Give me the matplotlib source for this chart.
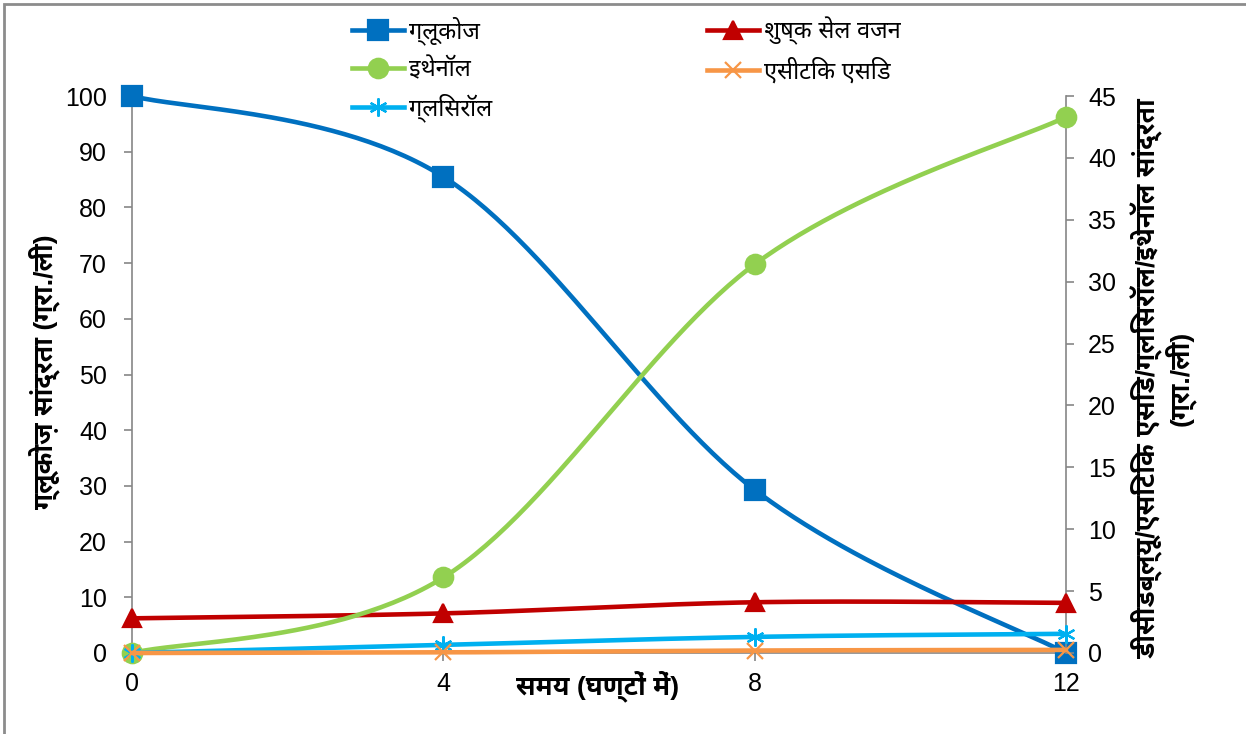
import numpy as np
import matplotlib
matplotlib.use("Agg")
import matplotlib.pyplot as plt
from matplotlib import font_manager
from matplotlib.lines import Line2D
from matplotlib.patches import Rectangle

# sampling times (h)
hours = [0, 4, 8, 12]
# left axis: glucose (g/L)
glucose = [100, 85.5, 29.3, 0]
# right axis (g/L)
dcw = [2.8, 3.2, 4.1, 4.05]
ethanol = [0, 6.1, 31.4, 43.3]
acetic = [0, 0.05, 0.2, 0.25]
glycerol = [0, 0.65, 1.3, 1.55]

left_ticks = list(range(0, 101, 10))
right_ticks = list(range(0, 46, 5))
x_ticks = [0, 4, 8, 12]

lbl_glucose = "ग्लूकोज"
lbl_ethanol = "इथेनॉल"
lbl_glycerol = "ग्लिसरॉल"
lbl_dcw = "शुष्क सेल वजन"
lbl_acetic = "एसीटिक एसिड"
ylabel_left = "ग्लूकोज़ सांद्रता (ग्रा./ली)"
ylabel_right = "डीसीडब्ल्यू/एसिटिक एसिड/ग्लिसरॉल/इथेनॉल सांद्रता\n(ग्रा./ली)"
xlabel = "समय (घण्टों में)"

# Devanagari fallback: prefer a family that ships a bold face
ttf = font_manager.fontManager.ttflist
have = {f.name for f in ttf}
bold_fams = {f.name for f in ttf if f.weight in (700, "bold")}
cands = ["Noto Sans Devanagari", "Noto Sans Devanagari UI", "Mukta", "Hind", "Poppins"]
deva = [c for c in cands if c in bold_fams] + [c for c in cands if c in have and c not in bold_fams]
fams = [f for f in ["Liberation Sans"] + deva[:1] + ["DejaVu Sans"] if f in have]
plt.rcParams["font.family"] = fams

GRAY = "#868686"


def excel_smooth(x, y, n=60):
    """Excel-style smoothed line: cubic Bezier through each point, tension 1/6."""
    P = np.column_stack([x, y]).astype(float)
    P = np.vstack([P[0], P, P[-1]])
    out = []
    for i in range(1, len(P) - 2):
        p0, p1 = P[i], P[i + 1]
        c1 = p0 + (P[i + 1] - P[i - 1]) / 6.0
        c2 = p1 - (P[i + 2] - P[i]) / 6.0
        t = np.linspace(0, 1, n)[:, None]
        seg = ((1 - t) ** 3) * p0 + 3 * ((1 - t) ** 2) * t * c1 + 3 * (1 - t) * t ** 2 * c2 + t ** 3 * p1
        out.append(seg if i == 1 else seg[1:])
    s = np.vstack(out)
    return s[:, 0], s[:, 1]


fig = plt.figure(figsize=(12.46, 7.34), dpi=100)
W, H = 1246, 734
fig.patches.append(Rectangle((4 / W, -0.1), 1.2, 1.1 - 4 / H, transform=fig.transFigure,
                             fill=False, edgecolor="#8c8c8c", lw=2))

ax = fig.add_axes([132 / W, (H - 653) / H, (1066 - 132) / W, (653 - 96) / H])
ax2 = ax.twinx()

lw = 3.3
series_left = [(glucose, "#0070C0", "s", 14, lbl_glucose)]
series_right = [
    (dcw, "#C00000", "^", 13, lbl_dcw),
    (ethanol, "#92D050", "o", 14, lbl_ethanol),
    (glycerol, "#00B0F0", (6, 2, 0), 13, lbl_glycerol),
    (acetic, "#F79646", "x", 11, lbl_acetic),
]

handles = {}
for a, series in ((ax, series_left), (ax2, series_right)):
    for k, (vals, col, mk, ms, lab) in enumerate(series):
        sx, sy = excel_smooth(hours, vals)
        a.plot(sx, sy, color=col, lw=lw, zorder=3 + k, solid_capstyle="round", clip_on=False)
        a.plot(hours, vals, linestyle="none", marker=mk, ms=ms, color=col, mec=col,
               mew=1.6, zorder=3 + k, clip_on=False)
        handles[lab] = Line2D([], [], color=col, lw=lw, marker=mk, ms=ms, mec=col, mew=1.6)

ax.set_xlim(0, 12)
ax.set_ylim(0, 100)
ax2.set_ylim(0, 45)
ax.set_xticks(x_ticks)
ax.set_yticks(left_ticks)
ax2.set_yticks(right_ticks)

for a in (ax, ax2):
    for s in a.spines.values():
        s.set_visible(False)
    a.tick_params(colors=GRAY, labelcolor="black", labelsize=18, length=6, width=1.2)
    a.set_facecolor("none")
for a, side in ((ax, "left"), (ax, "bottom"), (ax2, "right")):
    a.spines[side].set_visible(True)
    a.spines[side].set_color(GRAY)
    a.spines[side].set_linewidth(1.2)
ax.tick_params(axis="y", pad=12)
ax.tick_params(axis="x", pad=8)
ax2.tick_params(axis="y", pad=10)

fig.text(44 / W, 1 - 372 / H, ylabel_left, rotation=90, ha="center", va="center",
         fontsize=19, fontweight="bold")
fig.text(1163 / W, 1 - 378 / H, ylabel_right, rotation=90, ha="center", va="center",
         fontsize=19, fontweight="bold", linespacing=1.05)
fig.text(598 / W, 1 - 686 / H, xlabel, ha="center", va="center", fontsize=19, fontweight="bold")

order = [lbl_glucose, lbl_ethanol, lbl_glycerol, lbl_dcw, lbl_acetic]
fig.legend([handles[k] for k in order], order, ncol=2, frameon=False,
           loc="upper left", bbox_to_anchor=(331 / W, 1 + 5 / H), fontsize=17,
           handlelength=2.2, handletextpad=0.2, columnspacing=9.1, labelspacing=0.5)

fig.savefig("out.png", dpi=100)
